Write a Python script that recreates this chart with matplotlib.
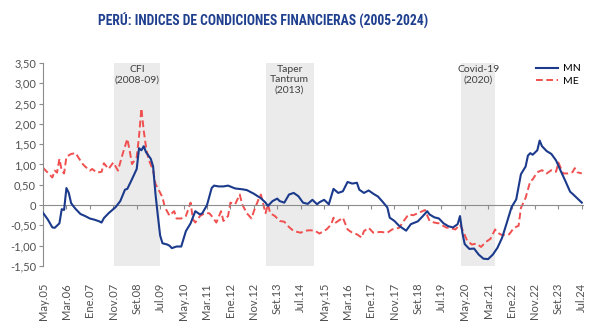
import matplotlib
matplotlib.use("Agg")
import matplotlib.pyplot as plt

# months since May 2005
tick_labels = ["May.05", "Mar.06", "Ene.07", "Nov.07", "Set.08", "Jul.09", "May.10", "Mar.11",
               "Ene.12", "Nov.12", "Set.13", "Jul.14", "May.15", "Mar.16", "Ene.17", "Nov.17",
               "Set.18", "Jul.19", "May.20", "Mar.21", "Ene.22", "Nov.22", "Set.23", "Jul.24"]

mn_months = [0, 2, 4, 5, 7, 8, 9, 10, 11, 12, 13, 14, 16, 18, 20, 22, 24, 25, 26, 28, 30, 31, 33, 35,
             36, 38, 40, 41, 42, 43, 44, 46, 47, 48, 49, 50, 51, 53, 54, 55, 57, 59, 61, 63, 65, 67,
             68, 70, 72, 73, 75, 77, 79, 82, 85, 87, 90, 93, 95, 96, 98, 100, 101, 103, 105, 107,
             109, 111, 113, 115, 117, 118, 120, 122, 124, 126, 128, 130, 132, 134, 135, 137, 139,
             141, 143, 145, 147, 148, 150, 152, 155, 157, 160, 162, 164, 165, 167, 169, 171, 173,
             175, 177, 178, 179, 180, 182, 184, 186, 188, 190, 192, 194, 196, 198, 200, 202, 204,
             206, 207, 208, 209, 211, 212, 213, 215, 217, 219, 221, 223, 225, 226, 228, 230]
mn_values = [-0.19, -0.35, -0.55, -0.56, -0.45, -0.10, -0.12, 0.42, 0.30, 0.05, -0.03, -0.10, -0.22,
             -0.27, -0.33, -0.36, -0.40, -0.43, -0.32, -0.20, -0.10, -0.05, 0.10, 0.38, 0.40, 0.64,
             0.89, 1.40, 1.35, 1.45, 1.30, 1.14, 0.95, 0.28, -0.25, -0.75, -0.94, -0.97, -1.00, -1.06,
             -1.02, -1.02, -0.64, -0.45, -0.15, -0.23, -0.20, 0.00, 0.42, 0.48, 0.46, 0.46, 0.48, 0.41,
             0.39, 0.37, 0.28, 0.17, 0.06, -0.02, 0.10, 0.16, 0.10, 0.06, 0.26, 0.30, 0.22, 0.06, 0.03,
             0.13, 0.02, 0.07, 0.13, 0.02, 0.40, 0.30, 0.34, 0.57, 0.53, 0.55, 0.38, 0.30, 0.36, 0.28,
             0.21, 0.08, -0.06, -0.31, -0.39, -0.51, -0.63, -0.47, -0.40, -0.28, -0.15, -0.23, -0.30,
             -0.33, -0.45, -0.52, -0.55, -0.47, -0.27, -0.68, -0.96, -1.08, -1.07, -1.22, -1.32, -1.33,
             -1.22, -1.05, -0.80, -0.43, -0.05, 0.14, 0.76, 0.95, 1.22, 1.28, 1.24, 1.35, 1.59, 1.45,
             1.33, 1.26, 1.10, 0.84, 0.59, 0.33, 0.28, 0.17, 0.06]

me_months = [0, 2, 4, 5, 6, 7, 8, 9, 10, 12, 14, 15, 17, 18, 20, 21, 23, 25, 26, 28, 30, 32, 34, 36,
             37, 38, 40, 41, 42, 43, 44, 45, 47, 48, 49, 51, 52, 54, 55, 56, 57, 59, 61, 63, 64, 65,
             67, 69, 71, 72, 74, 76, 77, 79, 80, 82, 84, 85, 87, 89, 90, 92, 93, 95, 96, 97, 99, 101,
             103, 105, 107, 110, 112, 114, 116, 118, 121, 123, 124, 125, 128, 130, 132, 134, 136, 137,
             139, 141, 144, 147, 149, 152, 154, 156, 158, 160, 162, 163, 165, 167, 169, 172, 174, 176,
             178, 179, 181, 183, 185, 187, 189, 191, 193, 194, 196, 199, 201, 203, 204, 206, 208, 209,
             211, 213, 215, 217, 219, 220, 222, 224, 226, 227, 228, 230]
me_values = [0.92, 0.80, 0.68, 0.85, 0.80, 1.14, 0.85, 0.78, 1.19, 1.26, 1.28, 1.18, 1.01, 0.95, 0.85,
             0.89, 0.80, 0.82, 1.03, 0.89, 1.05, 0.85, 1.26, 1.63, 1.34, 1.01, 1.18, 1.70, 2.38, 1.83,
             1.42, 1.14, 0.85, 0.52, 0.42, 0.19, -0.05, -0.26, -0.20, -0.15, -0.33, -0.33, -0.27, 0.06,
             -0.35, -0.43, -0.27, -0.20, -0.20, -0.27, -0.43, -0.15, -0.39, -0.27, 0.06, 0.02, 0.26,
             0.02, -0.20, -0.33, -0.15, 0.14, 0.26, -0.20, 0.02, -0.20, -0.27, -0.39, -0.41, -0.54,
             -0.64, -0.68, -0.63, -0.62, -0.63, -0.70, -0.60, -0.48, -0.31, -0.43, -0.31, -0.60, -0.68,
             -0.72, -0.80, -0.64, -0.56, -0.68, -0.66, -0.68, -0.60, -0.56, -0.39, -0.23, -0.25, -0.20,
             -0.15, -0.12, -0.39, -0.43, -0.45, -0.55, -0.57, -0.60, -0.48, -0.60, -0.87, -0.97, -0.95,
             -1.03, -0.91, -0.83, -0.60, -0.68, -0.74, -0.72, -0.56, -0.51, -0.07, 0.18, 0.59, 0.63,
             0.81, 0.86, 0.78, 0.86, 0.82, 1.05, 0.78, 0.78, 0.81, 0.91, 0.81, 0.78]

# shaded episodes (months since May 2005)
episodes = [("CFI\n(2008-09)", 30.5, 50), ("Taper\nTantrum\n(2013)", 95, 115.5),
            ("Covid-19\n(2020)", 178.5, 193)]

yticks = [3.5, 3.0, 2.5, 2.0, 1.5, 1.0, 0.5, 0, -0.5, -1.0, -1.5]

plt.rcParams['font.family'] = ['Lato', 'DejaVu Sans']

fig = plt.figure(figsize=(6, 3.3), dpi=100)
ax = fig.add_axes([43/600, 1-266/330, 540/600, 203/330])

for s in ["top", "right"]:
    ax.spines[s].set_visible(False)
ax.spines["bottom"].set_position(("data", 0))
ax.spines["bottom"].set_color("#8c8c8c")
ax.spines["left"].set_color("#8c8c8c")

for label, x0, x1 in episodes:
    ax.axvspan(x0, x1, color="#ebebeb", lw=0, zorder=0)
    ax.text((x0+x1)/2, 3.45, label, ha="center", va="top", fontsize=7.5,
            color="#404040", linespacing=1.15)

ax.plot(mn_months, mn_values, color="#1b3a8c", lw=1.5, label="MN", zorder=3)
ax.plot(me_months, me_values, color="#f0504f", lw=1.4, ls=(0, (3.5, 1.8)), label="ME", zorder=2)

ax.set_xlim(0, 230.5)
ax.set_ylim(-1.5, 3.5)
ax.set_yticks(yticks)
ax.set_yticklabels([("0" if v == 0 else f"{v:.2f}".replace(".", ",")) for v in yticks])
ax.set_xticks(range(0, 231, 10))
ax.set_xticklabels(tick_labels)
ax.tick_params(axis="y", colors="#8c8c8c", labelcolor="#505050", labelsize=8, length=3, width=0.8, pad=2)
ax.tick_params(axis="x", colors="#8c8c8c", labelcolor="#505050", labelsize=8, length=3, width=0.8,
               pad=53, labelrotation=90)

ax.legend(loc="upper left", bbox_to_anchor=(0.905, 1.015), frameon=False, fontsize=7.5,
          handlelength=2.1, handletextpad=0.5, labelspacing=0.3, borderaxespad=0)

fig.text(0.439, 0.935, "PERÚ: INDICES DE CONDICIONES FINANCIERAS (2005-2024)", ha="center", va="center",
         fontsize=9.8, fontweight="bold", color="#1f3f8f",
         family=["Liberation Sans Narrow", "Roboto Condensed", "Lato"])

fig.savefig("out.png", dpi=100)
